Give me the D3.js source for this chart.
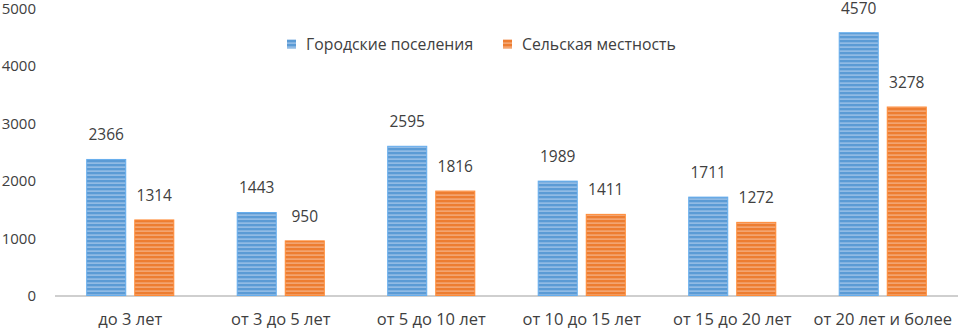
<!DOCTYPE html>
<html>
<head>
<meta charset="utf-8">
<script src="https://cdn.jsdelivr.net/npm/d3@7"></script>
<style>
  body { margin: 0; background: #fff; }
  text { font-family: 'Open Sans', 'Noto Sans', sans-serif; fill: #404040; }
</style>
</head>
<body>
<div id="chart"></div>
<script>
const categories = ['до 3 лет', 'от 3 до 5 лет', 'от 5 до 10 лет', 'от 10 до 15 лет', 'от 15 до 20 лет', 'от 20 лет и более']
const seriesNames = ['Городские поселения', 'Сельская местность']
const urban = [2366, 1443, 2595, 1989, 1711, 4570]
const rural = [1314, 950, 1816, 1411, 1272, 3278]
const yTicks = [0, 1000, 2000, 3000, 4000, 5000]

const w = 958, h = 329
const margin = { top: 8, right: 0, bottom: 33, left: 55 }
const color = ['#5b9bd5', '#ed7d31']
const stripe = ['#a8c9ec', '#f6b58a']

const data = categories.map((c, i) => ({ cat: c, vals: [urban[i], rural[i]] }))

const svg = d3.select('#chart').append('svg').attr('width', w).attr('height', h)

// stripe patterns
const defs = svg.append('defs')
color.forEach((c, i) => {
  let p = defs.append('pattern').attr('id', 'stripe' + i)
    .attr('patternUnits', 'userSpaceOnUse').attr('width', 8).attr('height', 4)
  p.append('rect').attr('width', 8).attr('height', 4).attr('fill', c)
  p.append('rect').attr('y', 2.5).attr('width', 8).attr('height', 1.2).attr('fill', stripe[i])
})

let x0 = d3.scaleBand().domain(categories).range([margin.left, w - margin.right])
let x1 = d3.scaleBand().domain([0, 1]).range([0, x0.bandwidth()]).paddingInner(0.1875).paddingOuter(0.66)
let y = d3.scaleLinear().domain([0, 5000]).range([h - margin.bottom - 0.5, margin.top])

// axis line
svg.append('line')
  .attr('x1', margin.left).attr('x2', w)
  .attr('y1', y(0) + 0.5).attr('y2', y(0) + 0.5)
  .attr('stroke', '#bfbfbf').attr('stroke-width', 1.5)

// y tick labels
svg.append('g').selectAll('text').data(yTicks).enter().append('text')
  .attr('x', 36).attr('y', d => y(d) + 0.5).attr('dy', '0.35em')
  .attr('text-anchor', 'end').attr('font-size', '15px')
  .text(d => d)

// bars
let groups = svg.append('g').selectAll('g').data(data).enter().append('g')
  .attr('transform', d => `translate(${x0(d.cat)},0)`)

groups.selectAll('rect').data(d => d.vals).enter().append('rect')
  .attr('x', (d, i) => x1(i)).attr('width', x1.bandwidth())
  .attr('y', d => y(d)).attr('height', d => y(0) - y(d))
  .attr('fill', (d, i) => `url(#stripe${i})`)
  .attr('stroke', (d, i) => d3.color(color[i]).brighter(0.3)).attr('stroke-width', 1)

// value labels
groups.selectAll('.label').data(d => d.vals).enter().append('text').classed('label', true)
  .attr('x', (d, i) => x1(i) + x1.bandwidth() / 2).attr('y', d => y(d) - 24.5).attr('dy', '0.35em')
  .attr('text-anchor', 'middle').attr('font-size', '15.5px')
  .text(d => d)

// category labels
svg.append('g').selectAll('text').data(categories).enter().append('text')
  .attr('x', d => x0(d) + x0.bandwidth() / 2).attr('y', 325)
  .attr('text-anchor', 'middle').attr('font-size', '16.5px')
  .text(d => d)

// legend
const legendX = [287, 503]
let lg = svg.append('g').selectAll('g').data(seriesNames).enter().append('g')
  .attr('transform', (d, i) => `translate(${legendX[i]}, 44)`)
lg.append('rect').attr('x', 0).attr('y', -4.5).attr('width', 9).attr('height', 9)
  .attr('fill', (d, i) => `url(#stripe${i})`)
lg.append('text').attr('x', 19).attr('dy', '0.35em').attr('font-size', '15.8px')
  .text(d => d)
</script>
</body>
</html>
